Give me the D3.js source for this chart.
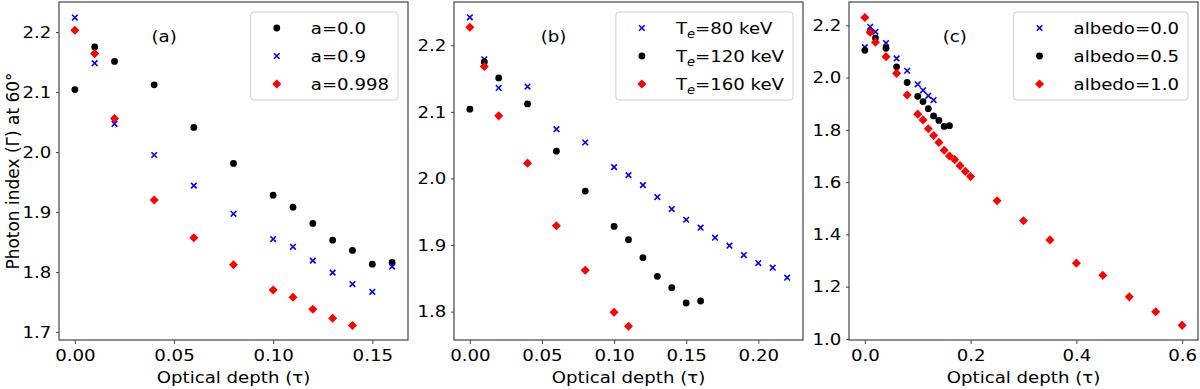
<!DOCTYPE html>
<html>
<head>
<meta charset="utf-8">
<script src="https://cdn.jsdelivr.net/npm/d3@7"></script>
<style>
  body { margin: 0; background: #fff; }
  svg { display: block; font-family: "DejaVu Sans", sans-serif; }
</style>
</head>
<body>
<div id="chart"></div>
<script>
// optical depth grids
const tauA = [0, 0.01, 0.02, 0.04, 0.06, 0.08, 0.10, 0.11, 0.12, 0.13, 0.14, 0.15, 0.16];
const tauB = [0, 0.01, 0.02, 0.04, 0.06, 0.08, 0.10, 0.11, 0.12, 0.13, 0.14, 0.15, 0.16,
              0.17, 0.18, 0.19, 0.20, 0.21, 0.22];
const tauC = [0, 0.01, 0.02, 0.04, 0.06, 0.08, 0.10, 0.11, 0.12, 0.13, 0.14, 0.15, 0.16,
              0.17, 0.18, 0.19, 0.20, 0.25, 0.30, 0.35, 0.40, 0.45, 0.50, 0.55, 0.60];

// (a) spin
const spin00 = [2.104, 2.175, 2.151, 2.112, 2.041, 1.981, 1.928, 1.908, 1.881, 1.853, 1.836, 1.813, 1.816];
const spin09 = [2.224, 2.148, 2.047, 1.995, 1.944, 1.897, 1.855, 1.842, 1.819, 1.799, 1.780, 1.767, 1.809];
const spin0998 = [2.203, 2.164, 2.056, 1.920, 1.857, 1.812, 1.770, 1.758, 1.738, 1.723, 1.711];

// (b) electron temperature
const te80 = [2.242, 2.179, 2.136, 2.138, 2.074, 2.054, 2.017, 2.005, 1.990, 1.972, 1.954, 1.938,
              1.926, 1.911, 1.899, 1.885, 1.873, 1.866, 1.851];
const te120 = spin00;
const te160 = [2.227, 2.168, 2.094, 2.023, 1.929, 1.862, 1.799, 1.778];

// (c) albedo
const alb00 = [2.116, 2.194, 2.175, 2.132, 2.073, 2.026, 1.974, 1.951, 1.930, 1.914];
const alb05 = spin00;
const alb10 = [2.230, 2.173, 2.135, 2.080, 2.016, 1.933, 1.860, 1.838, 1.804, 1.778, 1.752, 1.722,
               1.700, 1.686, 1.663, 1.641, 1.621, 1.529, 1.452, 1.379, 1.290, 1.244, 1.161, 1.104, 1.052];

const ticksXA = [0, 0.05, 0.10, 0.15];
const ticksXB = [0, 0.05, 0.10, 0.15, 0.20];
const ticksXC = [0, 0.2, 0.4, 0.6];
const ticksYA = [1.7, 1.8, 1.9, 2.0, 2.1, 2.2];
const ticksYB = [1.8, 1.9, 2.0, 2.1, 2.2];
const ticksYC = [1.0, 1.2, 1.4, 1.6, 1.8, 2.0, 2.2];

const zip = (xs, ys) => ys.map((v, i) => ({ x: xs[i], y: v }));

const panels = [
  {
    left: 59, right: 408, xDom: [-0.008, 0.168], yDom: [1.6867, 2.25],
    xTicks: ticksXA, xFmt: ".2f", yTicks: ticksYA, yFmt: ".1f",
    tag: "(a)", tagPos: [0.045, 2.183],
    series: [
      { name: ["a=0.0"], kind: "dot", pts: zip(tauA, spin00) },
      { name: ["a=0.9"], kind: "x", pts: zip(tauA, spin09) },
      { name: ["a=0.998"], kind: "diamond", pts: zip(tauA, spin0998) }
    ]
  },
  {
    left: 454, right: 803, xDom: [-0.011, 0.231], yDom: [1.7574, 2.265],
    xTicks: ticksXB, xFmt: ".2f", yTicks: ticksYB, yFmt: ".1f",
    tag: "(b)", tagPos: [0.058, 2.205],
    series: [
      { name: ["T", "e", "=80 keV"], kind: "x", pts: zip(tauB, te80) },
      { name: ["T", "e", "=120 keV"], kind: "dot", pts: zip(tauA, te120) },
      { name: ["T", "e", "=160 keV"], kind: "diamond", pts: zip(tauA, te160) }
    ]
  },
  {
    left: 849, right: 1198, xDom: [-0.03, 0.63], yDom: [0.996, 2.289],
    xTicks: ticksXC, xFmt: ".1f", yTicks: ticksYC, yFmt: ".1f",
    tag: "(c)", tagPos: [0.17, 2.136],
    series: [
      { name: ["albedo=0.0"], kind: "x", pts: zip(tauC, alb00) },
      { name: ["albedo=0.5"], kind: "dot", pts: zip(tauC, alb05) },
      { name: ["albedo=1.0"], kind: "diamond", pts: zip(tauC, alb10) }
    ]
  }
];

const yTop = 2, yBottom = 340;
const FS = 16.5, SX = 1.1;
const stretch = `scale(${SX},1)`;

const svg = d3.select("#chart").append("svg")
  .attr("width", 1200).attr("height", 389);

function marker(g, kind) {
  if (kind === "dot") {
    g.append("circle").attr("r", 3.4).attr("fill", "#000");
  } else if (kind === "diamond") {
    g.append("rect").attr("x", -3.2).attr("y", -3.2).attr("width", 6.4).attr("height", 6.4)
      .attr("transform", "rotate(45)").attr("fill", "#ff0000");
  } else {
    const s = 2.8;
    g.append("path").attr("d", `M${-s},${-s}L${s},${s}M${-s},${s}L${s},${-s}`)
      .attr("stroke", "#0000ff").attr("stroke-width", 1.6).attr("fill", "none");
  }
}

function label(text, parts) {
  if (parts.length === 1) {
    text.text(parts[0]);
  } else {
    text.append("tspan").text(parts[0]);
    text.append("tspan").attr("font-size", FS * 0.72).attr("font-style", "italic")
      .attr("dy", 4).text(parts[1]);
    text.append("tspan").attr("dy", -4).text(parts[2]);
  }
}

panels.forEach(p => {
  const x = d3.scaleLinear().domain(p.xDom).range([p.left, p.right]);
  const y = d3.scaleLinear().domain(p.yDom).range([yBottom, yTop]);

  const gx = svg.append("g").attr("transform", `translate(0,${yBottom})`)
    .call(d3.axisBottom(x).tickValues(p.xTicks).tickFormat(d3.format(p.xFmt)).tickSize(4).tickPadding(5));
  const gy = svg.append("g").attr("transform", `translate(${p.left},0)`)
    .call(d3.axisLeft(y).tickValues(p.yTicks).tickFormat(d3.format(p.yFmt)).tickSize(3).tickPadding(4));
  [gx, gy].forEach(g => {
    g.select(".domain").remove();
    g.selectAll("line").attr("stroke", "#333").attr("stroke-width", 0.9);
    g.selectAll("text").attr("font-size", FS).attr("fill", "#000")
      .attr("font-family", "DejaVu Sans").attr("transform", stretch);
  });

  // series, in legend order
  p.series.forEach(s => {
    svg.append("g").selectAll("g")
      .data(s.pts)
      .join("g")
      .attr("transform", d => `translate(${x(d.x)},${y(d.y)})`)
      .each(function () { marker(d3.select(this), s.kind); });
  });

  // frame
  svg.append("rect")
    .attr("x", p.left).attr("y", yTop)
    .attr("width", p.right - p.left).attr("height", yBottom - yTop)
    .attr("fill", "none").attr("stroke", "#444").attr("stroke-width", 1.2);

  // panel tag
  svg.append("g").attr("transform", `translate(${x(p.tagPos[0])},${y(p.tagPos[1])})`)
    .append("text").attr("text-anchor", "middle").attr("font-size", FS)
    .attr("transform", stretch).text(p.tag);

  // legend
  const leg = svg.append("g");
  const box = leg.append("rect");
  const rows = p.series.map((s, i) => {
    const mg = leg.append("g");
    marker(mg, s.kind);
    const tg = leg.append("g");
    const t = tg.append("text").attr("font-size", FS).attr("transform", stretch);
    label(t, s.name);
    return { mg, tg, t };
  });
  const tw = d3.max(rows, r => r.t.node().getComputedTextLength()) * SX;
  const bw = 60 + tw + 9;
  const bx = p.right - 10 - bw;
  rows.forEach((r, i) => {
    r.mg.attr("transform", `translate(${bx + 26},${28 + i * 28})`);
    r.tg.attr("transform", `translate(${bx + 60},${28 + i * 28 + 6})`);
  });
  box.attr("x", bx).attr("y", 12).attr("width", bw).attr("height", 88)
    .attr("rx", 3).attr("fill", "#fff").attr("fill-opacity", 0.8)
    .attr("stroke", "#d0d0d0").attr("stroke-width", 1);

  // x label
  svg.append("g").attr("transform", `translate(${(p.left + p.right) / 2},383)`)
    .append("text").attr("text-anchor", "middle").attr("font-size", FS)
    .attr("transform", stretch).text("Optical depth (τ)");
});

svg.append("text")
  .attr("transform", `translate(19,${(yTop + yBottom) / 2}) rotate(-90)`)
  .attr("text-anchor", "middle").attr("font-size", FS * 1.03)
  .text("Photon index (Γ) at 60°");
</script>
</body>
</html>
